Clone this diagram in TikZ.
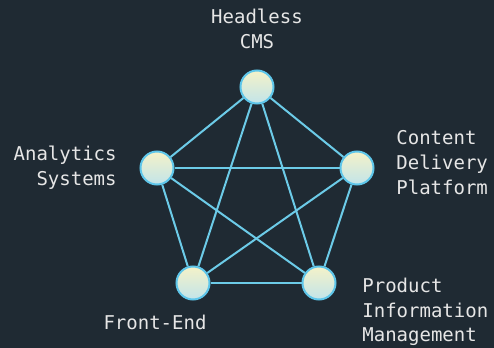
\documentclass[tikz,border=0pt]{standalone}
\usepackage{fontspec}
\setmonofont{DejaVu Sans Mono}
\usetikzlibrary{positioning}
\definecolor{bgdark}{HTML}{1F2A33}
\definecolor{linkblue}{HTML}{6CCBE8}
\definecolor{ringblue}{HTML}{5EC6EA}
\definecolor{topcream}{HTML}{F4F2C8}
\definecolor{bottomaqua}{HTML}{C2E4EA}
\definecolor{labelgray}{HTML}{E6E6E6}
\tikzset{
  hub/.style={circle, draw=ringblue, line width=1pt, top color=topcream,
    bottom color=bottomaqua, minimum size=16.5pt, inner sep=0pt},
  link/.style={draw=linkblue, line width=1pt},
  caption/.style={text=labelgray, inner sep=0pt,
    font={\ttfamily\fontsize{9.5}{12.3}\selectfont}},
}
\begin{document}
\begin{tikzpicture}[x=0.5pt,y=-0.5pt]
\fill[bgdark] (0,0) rectangle (494,348);
\useasboundingbox (0,0) rectangle (494,348);
% the five systems
\node[hub] (cms) at (257,87) {};
\node[hub] (analytics) at (157,168) {};
\node[hub] (cdp) at (357,168) {};
\node[hub] (frontend) at (193,283) {};
\node[hub] (pim) at (319,283) {};
% every pair is linked
\foreach \a/\b in {cms/analytics, cms/cdp, cms/frontend, cms/pim,
                   analytics/cdp, analytics/frontend, analytics/pim,
                   cdp/frontend, cdp/pim, frontend/pim}
  \draw[link] (\a) -- (\b);
% captions (base anchor sits on the last line)
\node[caption, align=center, anchor=base] (cmstext) at (257,48) {Headless\\CMS};
\node[caption, align=right, anchor=base east] (analyticstext) at (117,185) {Analytics\\Systems};
\node[caption, align=left, anchor=base west] (cdptext) at (396,194) {Content\\Delivery\\Platform};
\node[caption, anchor=base] (frontendtext) at (155,329) {Front-End};
\node[caption, align=left, anchor=base west] (pimtext) at (362,342) {Product\\Information\\Management};
\end{tikzpicture}
\end{document}
